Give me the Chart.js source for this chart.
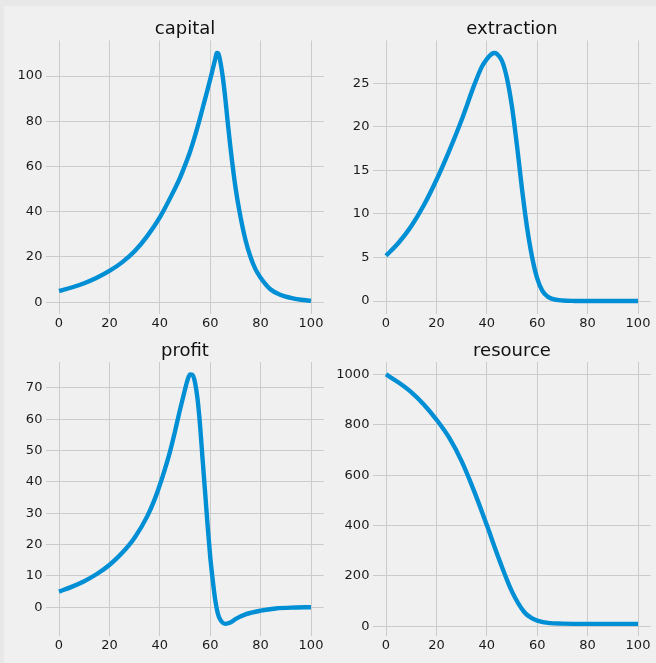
<!DOCTYPE html>
<html>
<head>
<meta charset="utf-8">
<script src="https://cdn.jsdelivr.net/npm/chart.js@4"></script>
<style>
  html, body { margin: 0; padding: 0; }
  body { width: 656px; height: 663px; background: #e8e8e8; position: relative; overflow: hidden; }
  #fig { position: absolute; left: 4px; top: 6px; right: 0; bottom: 0; background: #f0f0f0; }
  .panel { position: absolute; }
</style>
</head>
<body>
<div id="fig"></div>
<div class="panel" style="left:0;top:0"><canvas id="c1" width="330" height="335"></canvas></div>
<div class="panel" style="left:330px;top:0"><canvas id="c2" width="326" height="335"></canvas></div>
<div class="panel" style="left:0;top:335px"><canvas id="c3" width="330" height="328"></canvas></div>
<div class="panel" style="left:330px;top:335px"><canvas id="c4" width="326" height="328"></canvas></div>
<script>
// values
const capitalT = [0, 5, 10, 15, 20, 25, 30, 35, 40, 45, 48, 50, 52, 55, 58, 60, 61, 62, 62.6, 63.2, 64, 65, 66, 67, 68, 70, 72, 74, 76, 78, 80, 84, 88, 92, 96, 100];
const capitalY = [5.0, 6.5, 8.4, 10.8, 13.8, 17.6, 22.5, 29.2, 37.5, 48, 55, 60.5, 66.5, 77.5, 90, 98.5, 103, 107.5, 110.2, 110, 106.5, 99.5, 90, 79, 68.7, 51, 37.8, 27.5, 20, 14.5, 10.8, 5.6, 3.2, 1.9, 1.1, 0.6];

const extractionT = [0, 5, 10, 15, 20, 25, 30, 35, 38, 40, 42, 43, 44, 46, 48, 50, 52, 54, 56, 58, 60, 62, 64, 66, 70, 75, 80, 100];
const extractionY = [5.2, 6.7, 8.6, 11, 13.9, 17.2, 20.8, 24.8, 26.9, 27.8, 28.4, 28.5, 28.4, 27.6, 25.6, 22.3, 17.8, 12.8, 8.4, 5.0, 2.6, 1.2, 0.55, 0.25, 0.06, 0.01, 0, 0];

const profitT = [0, 5, 10, 15, 20, 25, 30, 35, 38, 40, 42, 44, 46, 48, 50, 51, 52, 53, 54, 55, 56, 57, 58, 59, 60, 61, 62, 63, 64, 66, 68, 70, 74, 80, 86, 94, 100];
const profitY = [5.0, 6.5, 8.3, 10.6, 13.5, 17.3, 22.2, 29, 34.5, 39, 44, 49.5, 56, 63, 69.5, 72.5, 74.3, 74.2, 71.6, 66.3, 57.8, 47, 36.5, 25.8, 16.2, 8.7, 2.3, -1.9, -4, -5.3, -4.9, -3.8, -2.3, -1.1, -0.4, -0.1, 0];

const resourceT = [0, 5, 10, 15, 20, 25, 30, 35, 40, 45, 50, 55, 58, 60, 65, 70, 80, 100];
const resourceY = [1000, 968, 930, 881, 821, 750, 656, 536, 402, 263, 138, 55, 32, 23, 13, 11, 10, 10];

const xTicks = [0, 20, 40, 60, 80, 100];

const lineColor = '#008fd5';
const gridColor = '#cbcbcb';
const font = 'DejaVu Sans';

// title centred over the plot area, like matplotlib's ax.set_title
const panelTitle = {
    id: 'panelTitle',
    afterDraw(chart, args, opts) {
        const a = chart.chartArea;
        const c = chart.ctx;
        c.save();
        c.font = '18px "' + font + '"';
        c.fillStyle = '#111';
        c.textAlign = 'center';
        c.textBaseline = 'alphabetic';
        c.fillText(opts.text, (a.left + a.right) / 2, a.top - 6.5);
        c.restore();
    }
};

function toPoints(xs, ys) {
    return xs.map((x, i) => ({ x: x, y: ys[i] }));
}

function makeChart(id, title, xs, ys, yMin, yMax, yStep, axisW, padR, padTop, xAxisH) {
    const ctx = document.getElementById(id).getContext('2d');
    return new Chart(ctx, {
        type: 'line',
        data: {
            datasets: [{
                data: toPoints(xs, ys),
                borderColor: lineColor,
                borderWidth: 4.4,
                pointRadius: 0,
                fill: false,
                cubicInterpolationMode: 'monotone'
            }]
        },
        plugins: [panelTitle],
        options: {
            responsive: false,
            animation: false,
            devicePixelRatio: 1,
            layout: { padding: { left: 0, right: padR, top: padTop, bottom: 0 } },
            plugins: {
                legend: { display: false },
                tooltip: { enabled: false },
                title: { display: false },
                panelTitle: { text: title }
            },
            scales: {
                x: {
                    type: 'linear',
                    min: -5,
                    max: 105,
                    afterBuildTicks: function(scale) {
                        scale.ticks = xTicks.map(v => ({ value: v }));
                    },
                    afterFit: function(scale) { scale.height = xAxisH; },
                    grid: { color: gridColor, lineWidth: 1, drawTicks: false },
                    border: { display: false },
                    ticks: { color: '#1a1a1a', padding: 2, font: { family: font, size: 13 }, callback: v => String(v) }
                },
                y: {
                    min: yMin,
                    max: yMax,
                    afterFit: function(scale) { scale.width = axisW; },
                    grid: { color: gridColor, lineWidth: 1, drawTicks: false },
                    border: { display: false },
                    ticks: { color: '#1a1a1a', padding: 4, stepSize: yStep, includeBounds: false, font: { family: font, size: 13 }, callback: v => String(v) }
                }
            }
        }
    });
}

makeChart('c1', 'capital', capitalT, capitalY, -5, 115.7, 20, 46.4, 6.4, 40.5, 21.5);
makeChart('c2', 'extraction', extractionT, extractionY, -1.43, 29.93, 5, 43.4, 5.4, 40.5, 21.5);
makeChart('c3', 'profit', profitT, profitY, -9.28, 78.28, 10, 46.4, 6.4, 27, 26.7);
makeChart('c4', 'resource', resourceT, resourceY, -39.5, 1049.5, 200, 43.4, 5.4, 27, 26.7);
</script>
</body>
</html>
